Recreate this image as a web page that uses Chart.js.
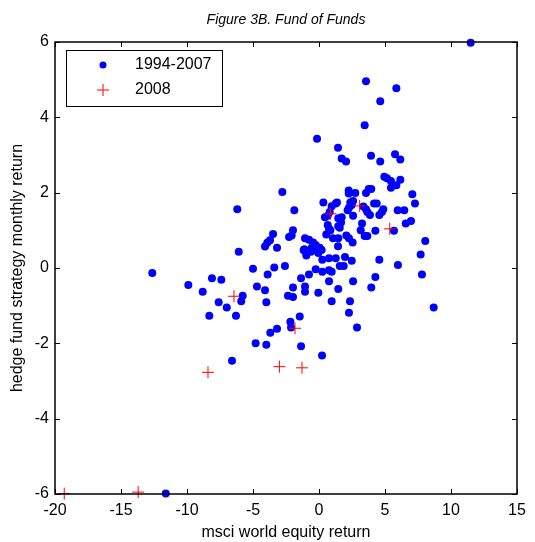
<!DOCTYPE html>
<html lang="en">
<head>
  <meta charset="UTF-8">
  <title>Fund of Funds</title>
  <style>
    body {
      margin: 0;
      background: #ffffff;
    }
    canvas {
      display: block;
    }
  </style>
</head>
<body>
  <canvas id="scatterChart" width="535" height="542"></canvas>

  <script src="https://cdn.jsdelivr.net/npm/chart.js"></script>
  <script>
    // 1994-2007 monthly returns: msci world (x) vs fund of funds (y)
    const earlyX = [
      11.49, 3.56, 5.86, 4.64, 3.46, -0.15, 1.44, 1.72, 2.05, 3.94, 4.64, 5.76, 6.16,
      -2.78, -6.19, -6.08, 4.95, 5.15, 5.45, 6.16, 5.86, 5.45, 7.07, 7.27, 5.96, 6.46,
      6.57, 6.97, 8.05, 7.70, 7.80, 8.69, 5.98, 4.57, 4.27, 3.96,
      2.25, 2.25, 2.75, 3.56, 3.77, 3.96, 0.33, -1.87, 0.96, 1.27, 1.36, 2.37, 2.58,
      2.27, 2.17, 2.48, 2.58, 4.17, 4.37, 3.36, 3.56, 3.66, 3.86, 4.87, 4.77, 4.57,
      0.81, 0.45, 0.66, 1.46, 1.72, 0.66, 0.76, 0.86, 0.55, 1.46, 1.57, 1.67, 1.06,
      1.46, 2.07, 2.27, 2.55, 3.26, 3.16, 3.46, 3.66, 4.27, 5.68, -1.97, -2.07, -2.27,
      -3.48, -3.71, -3.92, -4.09, -3.18, -1.06, -0.76, -0.45, -0.25, 0.05, -0.55, -1.11,
      1.44, -1.16, -0.96, -0.45, -0.05, -0.96, -0.81, -0.61, 0.20, 0.25, 0.76, 1.27,
      1.97, 2.48,
      -5.00, -3.39, -2.58, -0.25, 0.25, 0.76, 0.96, 1.57, 1.87, -3.89, -0.76, -1.36,
      0.76, 2.58, -4.70, -1.97, -1.06, 1.46, -4.09, -1.06, -0.05, -2.35, -1.97, -3.99,
      0.96, 2.35, 2.27, -1.46, -2.17, -2.12, -3.18, -3.69, 2.88, -4.80, -3.99, -1.36,
      0.23, -6.59,
      -12.63, -9.90, -8.81, -8.11, -7.40, -7.60, -6.99, -8.31, -6.29, -5.78, -5.89, -11.61
    ];
    const earlyY = [
      5.98, 4.96, 4.77, 4.43, 3.79, 3.43, 3.19, 2.91, 2.83, 2.98, 2.83, 3.02, 2.88,
      2.02, 1.56, 0.43, 2.42, 2.38, 2.31, 2.34, 2.20, 2.13, 1.96, 1.71, 1.53, 1.53,
      1.18, 1.25, 0.72, 0.36, -0.17, -1.05, 0.08, 0.22, -0.24, -0.52,
      2.06, 1.98, 1.99, 1.99, 2.10, 2.10, 1.74, 1.53, 1.64, 1.71, 1.74, 1.74, 1.78,
      1.60, 1.53, 1.67, 1.39, 1.71, 1.71, 1.63, 1.56, 1.49, 1.41, 1.56, 1.49, 1.41,
      1.49, 1.35, 1.39, 1.32, 1.35, 1.14, 1.04, 1.00, 0.89, 1.11, 1.07, 1.21, 0.79,
      0.79, 0.86, 0.79, 0.68, 1.18, 1.00, 0.85, 0.85, 0.99, 0.99, 1.00, 0.86, 0.82,
      0.90, 0.74, 0.67, 0.57, 0.54, 0.79, 0.75, 0.68, 0.61, 0.54, 0.54, 0.50,
      0.58, 0.47, 0.40, 0.47, 0.40, 0.33, 0.43, 0.43, 0.48, 0.22, 0.26, 0.26,
      0.29, 0.19,
      -0.02, 0.01, 0.05, -0.03, -0.10, -0.06, -0.10, 0.05, 0.05, -0.17, -0.17, -0.27,
      -0.35, -0.35, -0.49, -0.52, -0.49, -0.56, -0.59, -0.63, -0.66, -0.74, -0.77, -0.91,
      -0.88, -0.88, -1.19, -1.29, -1.43, -1.58, -1.61, -1.72, -1.58, -2.00, -2.04, -2.08,
      -2.32, -2.46,
      -0.13, -0.45, -0.63, -0.27, -0.31, -0.91, -1.05, -1.27, -1.27, -0.74, -0.88, -5.99
    ];

    // 2008 monthly returns
    const crisisX = [0.86, 3.08, 5.36, -6.44, -8.41, -3.00, -1.82, -1.29, -19.3, -13.7];
    const crisisY = [1.44, 1.65, 1.04, -0.75, -2.77, -2.62, -1.60, -2.65, -5.99, -5.95];

    const seriesLabels = ['1994-2007', '2008'];
    const xTicks = [-20, -15, -10, -5, 0, 5, 10, 15];
    const yTicks = [-6, -4, -2, 0, 2, 4, 6];

    const toPoints = (xs, ys) => xs.map((x, i) => ({ x: x, y: ys[i] }));

    const fontFamily = "'Liberation Sans', Arial, sans-serif";

    // box, inward ticks, title and legend drawn the matlab way
    const figureFrame = {
      id: 'figureFrame',
      afterDraw(chart) {
        const ctx = chart.ctx;
        const area = chart.chartArea;
        const xs = chart.scales.x;
        const ys = chart.scales.y;
        const tickLen = 5;

        ctx.save();
        ctx.strokeStyle = '#000000';
        ctx.lineWidth = 1;

        // inward ticks on all four sides
        ctx.beginPath();
        xTicks.forEach(v => {
          const px = Math.round(xs.getPixelForValue(v)) + 0.5;
          ctx.moveTo(px, area.bottom);
          ctx.lineTo(px, area.bottom - tickLen);
          ctx.moveTo(px, area.top);
          ctx.lineTo(px, area.top + tickLen);
        });
        yTicks.forEach(v => {
          const py = Math.round(ys.getPixelForValue(v)) + 0.5;
          ctx.moveTo(area.left, py);
          ctx.lineTo(area.left + tickLen, py);
          ctx.moveTo(area.right, py);
          ctx.lineTo(area.right - tickLen, py);
        });
        ctx.stroke();

        // axes box
        ctx.lineWidth = 1.5;
        ctx.strokeRect(area.left, area.top, area.right - area.left, area.bottom - area.top);

        // title
        ctx.fillStyle = '#000000';
        ctx.font = 'italic 14px ' + fontFamily;
        ctx.textAlign = 'center';
        ctx.textBaseline = 'middle';
        ctx.fillText('Figure 3B. Fund of Funds', (area.left + area.right) / 2, 20);

        // legend
        const lx = area.left + 11, ly = area.top + 8, lw = 156, lh = 56;
        ctx.fillStyle = '#ffffff';
        ctx.fillRect(lx, ly, lw, lh);
        ctx.lineWidth = 1;
        ctx.strokeStyle = '#000000';
        ctx.strokeRect(lx + 0.5, ly + 0.5, lw, lh);

        const row1 = ly + 15, row2 = ly + 40, markX = lx + 37;
        ctx.fillStyle = '#0000ff';
        ctx.beginPath();
        ctx.arc(markX, row1, 3.5, 0, Math.PI * 2);
        ctx.fill();

        ctx.strokeStyle = '#ff0000';
        ctx.beginPath();
        ctx.moveTo(markX - 6, row2);
        ctx.lineTo(markX + 6, row2);
        ctx.moveTo(markX, row2 - 6);
        ctx.lineTo(markX, row2 + 6);
        ctx.stroke();

        ctx.fillStyle = '#000000';
        ctx.font = '16px ' + fontFamily;
        ctx.textAlign = 'left';
        ctx.fillText(seriesLabels[0], lx + 69, row1);
        ctx.fillText(seriesLabels[1], lx + 69, row2);
        ctx.restore();
      }
    };

    const ctx = document.getElementById('scatterChart').getContext('2d');
    new Chart(ctx, {
      type: 'scatter',
      data: {
        datasets: [
          {
            label: seriesLabels[0],
            data: toPoints(earlyX, earlyY),
            pointStyle: 'circle',
            pointRadius: 4,
            pointBorderWidth: 0,
            backgroundColor: '#0000ff',
            borderColor: '#0000ff',
            clip: false,
            order: 1
          },
          {
            label: seriesLabels[1],
            data: toPoints(crisisX, crisisY),
            pointStyle: 'cross',
            pointRadius: 6,
            pointBorderWidth: 1,
            borderColor: '#ff0000',
            backgroundColor: '#ff0000',
            clip: false,
            order: 0
          }
        ]
      },
      options: {
        responsive: false,
        animation: false,
        layout: { padding: { top: 42, right: 18, left: 0, bottom: 0 } },
        plugins: {
          legend: { display: false },
          tooltip: { enabled: false }
        },
        scales: {
          x: {
            type: 'linear',
            min: -20,
            max: 15,
            afterBuildTicks: (scale) => { scale.ticks = xTicks.map(v => ({ value: v })); },
            afterFit: (scale) => { scale.height = 48; },
            grid: { display: false, drawTicks: false },
            border: { display: false },
            ticks: {
              color: '#000000',
              padding: 7,
              maxRotation: 0,
              font: { family: fontFamily, size: 16 }
            },
            title: {
              display: true,
              text: 'msci world equity return',
              color: '#000000',
              padding: { top: 0, bottom: 0 },
              font: { family: fontFamily, size: 16 }
            }
          },
          y: {
            type: 'linear',
            min: -6,
            max: 6,
            afterBuildTicks: (scale) => { scale.ticks = yTicks.map(v => ({ value: v })); },
            afterFit: (scale) => { scale.width = 55; },
            grid: { display: false, drawTicks: false },
            border: { display: false },
            ticks: {
              color: '#000000',
              padding: 6,
              font: { family: fontFamily, size: 16 }
            },
            title: {
              display: true,
              text: 'hedge fund strategy monthly return',
              color: '#000000',
              padding: { top: 8, bottom: 0 },
              font: { family: fontFamily, size: 16 }
            }
          }
        }
      },
      plugins: [figureFrame]
    });
  </script>
</body>
</html>
